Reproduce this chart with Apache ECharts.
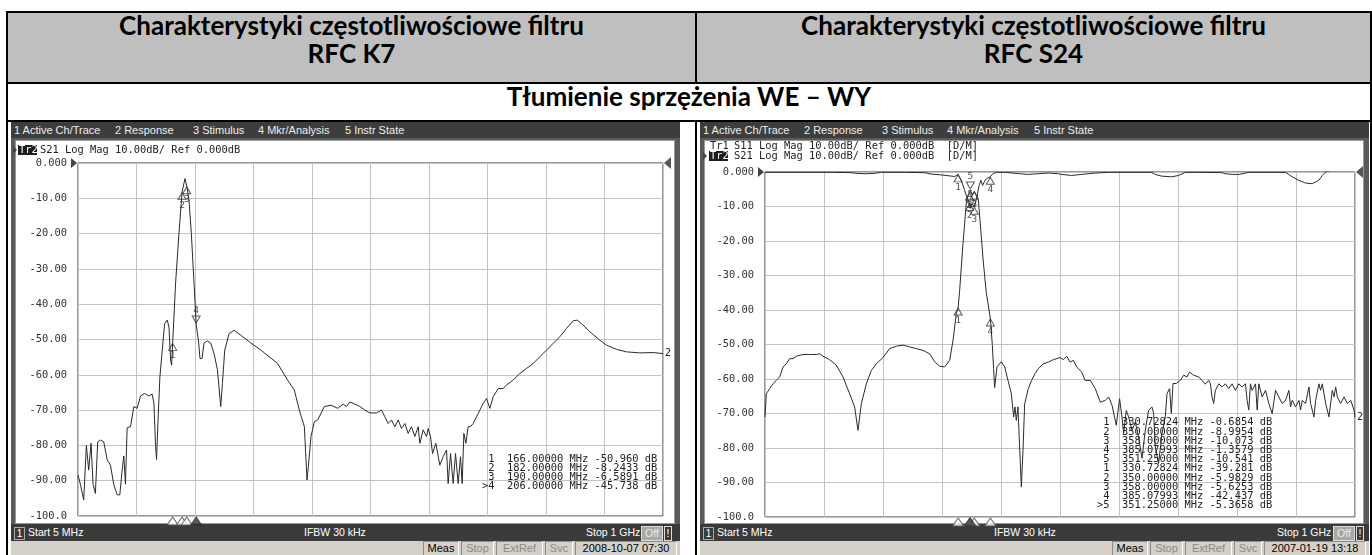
<!DOCTYPE html>
<html>
<head>
<meta charset="utf-8">
<title>Charakterystyki częstotliwościowe filtru RFC K7 / RFC S24</title>
<script src="https://cdn.jsdelivr.net/npm/echarts@6.0.0/dist/echarts.min.js"></script>
<style>
  html, body { margin: 0; padding: 0; background: #fff; }
  #page { position: relative; width: 1372px; height: 555px; overflow: hidden; }
  .rule { position: absolute; background: #000; }
  .headbg { position: absolute; top: 13px; height: 69px; background: #bfbfbf; }
  .ht { position: absolute; text-align: center; white-space: nowrap; color: #000;
        font-family: Lato, "Open Sans", sans-serif; font-weight: 700; line-height: 1.2; }
  .scr { position: absolute; top: 122px; width: 669px; height: 433px; background: #5a5a5a;
         overflow: hidden; font-family: "Liberation Sans", Arial, sans-serif; }
  .menu { position: absolute; left: 0; right: 0; top: 0; height: 16px; background: #3d3d3d;
          color: #eee; font-size: 11px; line-height: 16px; }
  .menu span { position: absolute; top: 0; white-space: nowrap; }
  .panel { position: absolute; left: 4px; right: 5px; top: 18px; height: 382px; background: #fff;
           border: 1px solid #999; }
  .sbar { position: absolute; left: 0; right: 0; top: 402px; height: 17px; background: #3a3a3a;
          color: #fff; font-size: 10.5px; line-height: 17px; }
  .sbar span { position: absolute; top: 0; white-space: nowrap; }
  .sbar .box1 { top: 3px; left: 3px; width: 9px; height: 11px; line-height: 11px; text-align: center;
                border: 1px solid #aaa; font-size: 10px; }
  .sbar .off { top: 2px; width: 20px; height: 13px; line-height: 13px; text-align: center;
               background: #a8a8a8; color: #eee; border: 1px solid #ddd; }
  .sbar .bang { top: 2px; width: 6px; height: 13px; line-height: 13px; text-align: center;
                border: 1px solid #ddd; }
  .status { position: absolute; left: 0; right: 0; top: 419px; height: 14px; background: #d4d0c8;
            font-size: 11px; display: flex; justify-content: flex-end; gap: 2px; padding-right: 3px; }
  .status span { display: block; height: 13px; line-height: 13px; text-align: center;
                 border-top: 1px solid #8c8c8c; border-left: 1px solid #8c8c8c;
                 border-bottom: 1px solid #fff; border-right: 1px solid #fff; }
  .status .dim { color: #8a8a8a; }
  #chart { position: absolute; left: 0; top: 0; width: 1372px; height: 555px; }
</style>
</head>
<body>
<div id="page">
  <div class="headbg" style="left:8px;width:687px"></div>
  <div class="headbg" style="left:697px;width:673px"></div>
  <div class="rule" style="left:6px;top:11px;width:1366px;height:2px"></div>
  <div class="rule" style="left:6px;top:11px;width:2px;height:544px"></div>
  <div class="rule" style="left:1370px;top:11px;width:2px;height:544px"></div>
  <div class="rule" style="left:8px;top:82px;width:1362px;height:2px"></div>
  <div class="rule" style="left:8px;top:120px;width:1362px;height:2px"></div>
  <div class="rule" style="left:695px;top:11px;width:2px;height:72px"></div>
  <div class="rule" style="left:695px;top:120px;width:2px;height:435px"></div>

  <div class="ht" data-cx="351.5" data-base="36">Charakterystyki częstotliwościowe filtru</div>
  <div class="ht" data-cx="351.5" data-base="64">RFC K7</div>
  <div class="ht" data-cx="1033.5" data-base="36">Charakterystyki częstotliwościowe filtru</div>
  <div class="ht" data-cx="1033.5" data-base="64">RFC S24</div>
  <div class="ht" data-cx="689" data-base="107">Tłumienie sprzężenia WE – WY</div>

  <div class="scr" style="left:11px">
    <div class="menu">
      <span style="left:3px">1 Active Ch/Trace</span><span style="left:104px">2 Response</span>
      <span style="left:182px">3 Stimulus</span><span style="left:247px">4 Mkr/Analysis</span>
      <span style="left:334px">5 Instr State</span>
    </div>
    <div class="panel"></div>
    <div class="sbar">
      <span class="box1">1</span><span style="left:17px">Start 5 MHz</span>
      <span style="left:293px">IFBW 30 kHz</span><span style="left:575px">Stop 1 GHz</span>
      <span class="off" style="left:630px">Off</span><span class="bang" style="left:653px">!</span>
    </div>
    <div class="status">
      <span style="width:34px">Meas</span><span class="dim" style="width:31px">Stop</span>
      <span class="dim" style="width:45px">ExtRef</span><span class="dim" style="width:26px">Svc</span>
      <span style="width:100px">2008-10-07 07:30</span>
    </div>
  </div>

  <div class="scr" style="left:700px">
    <div class="menu">
      <span style="left:3px">1 Active Ch/Trace</span><span style="left:104px">2 Response</span>
      <span style="left:182px">3 Stimulus</span><span style="left:247px">4 Mkr/Analysis</span>
      <span style="left:334px">5 Instr State</span>
    </div>
    <div class="panel"></div>
    <div class="sbar">
      <span class="box1">1</span><span style="left:17px">Start 5 MHz</span>
      <span style="left:294px">IFBW 30 kHz</span><span style="left:577px">Stop 1 GHz</span>
      <span class="off" style="left:633px">Off</span><span class="bang" style="left:656px">!</span>
    </div>
    <div class="status">
      <span style="width:34px">Meas</span><span class="dim" style="width:31px">Stop</span>
      <span class="dim" style="width:45px">ExtRef</span><span class="dim" style="width:26px">Svc</span>
      <span style="width:100px">2007-01-19 13:18</span>
    </div>
  </div>

  <div id="chart"></div>
</div>

<script>
// stimulus: 5 MHz .. 1 GHz, 10 divisions; response 10 dB/div, ref 0 dB
var freqStart = 5, freqStop = 1000;
var dbTicks = ['0.000', '-10.00', '-20.00', '-30.00', '-40.00', '-50.00',
               '-60.00', '-70.00', '-80.00', '-90.00', '-100.0'];

// RFC K7, S21 (MHz / dB)
var k7Freq = [
  5, 9, 14.7, 19.2, 23.2, 27.2, 30.6, 34.6, 38.5, 43.1,
  48.8, 54.5, 60.2, 65.8, 71.5, 76.1, 80.1, 82.9, 85.7, 88.6,
  94.3, 100, 105.6, 111.3, 118.2, 125.5, 131.2, 134.1, 136.9, 138.6,
  140.9, 144.3, 148.3, 152.3, 156.8, 159.7, 162.5, 164.2, 166, 171,
  176.7, 182, 187, 190, 193.8, 197.8, 202.3, 206, 210.3, 212.5,
  216, 219.4, 225, 230.7, 236.4, 242.1, 247.8, 250.6, 254.6, 262,
  270.5, 281.9, 299, 316, 344.5, 361.5, 372.9, 381.4, 390, 394.5,
  396.8, 401.3, 407, 412.7, 424, 435.4, 446.8, 456, 461.7, 467.3,
  475.9, 484.4, 492.9, 501.4, 512.7, 521.2, 526.9, 532.5, 538.2, 543.9,
  549.6, 555.2, 560.9, 566.6, 572.2, 577.9, 583.6, 586.4, 592.1, 597.8,
  600.6, 604.6, 608, 613.6, 620.4, 626.1, 631.8, 634.6, 638.6, 643.1,
  647.1, 651.6, 655.6, 658.4, 661.3, 664.7, 668.6, 672.6, 677.1, 682.8,
  688.5, 694.1, 699.8, 705.5, 711.2, 719.7, 728.2, 733.8, 745.2, 756.5,
  767.9, 779.2, 790.5, 801.9, 813.2, 824.6, 835.9, 847.2, 854, 861.4,
  875.6, 892.6, 903.9, 920.9, 938, 960.6, 983.3, 1000
];
var k7S21 = [
  -88.4, -91, -95.5, -80, -87, -79.4, -91, -93.6, -79, -78.5,
  -79, -84, -85.6, -91, -94, -94, -87, -83, -91, -75,
  -74.7, -69, -69.5, -66, -65.3, -66, -65.5, -68, -80, -84,
  -73.8, -60.6, -53, -45.5, -44.5, -46.5, -55.8, -57.3, -50.96, -34,
  -20, -8.24, -4.4, -6.59, -10.5, -20, -34, -45.74, -51, -55.4,
  -55.4, -51, -50.4, -51, -54, -58.5, -69, -62.5, -53, -48.3,
  -47.4, -48.8, -51, -53, -56.8, -61.5, -64.3, -70, -74.7, -89.8,
  -86, -77.5, -73.3, -72.8, -69, -68.6, -69.5, -68.3, -69, -67.7,
  -68.3, -69, -70, -70.8, -70.8, -70, -71.9, -73.8, -72.8, -74.7,
  -72.8, -75.2, -73.8, -76.6, -74.7, -77.5, -74.7, -79.4, -75.6, -77.5,
  -75.2, -77.5, -82.3, -79.4, -85.6, -83.2, -81.3, -90.8, -82.3, -90.8,
  -82.3, -90.8, -83.2, -90.8, -76.6, -79.4, -74.7, -74.7, -73.8, -71.9,
  -70, -68.1, -66.7, -69.5, -66.2, -63.9, -63.9, -62.9, -61.5, -59.6,
  -58.2, -56.8, -54.9, -53, -51.1, -49.2, -46.9, -44.7, -44.5, -45.5,
  -47.8, -50.2, -51.6, -52.8, -53.5, -53.8, -53.7, -54
];

// RFC S24, S21 (MHz / dB)
var s24Freq = [
  5, 7.2, 12.9, 18.5, 24.1, 29.7, 35.4, 41, 46.6, 52.2,
  57.8, 69.1, 80.3, 91.6, 97.2, 102.8, 114, 125.3, 136.5, 147.8,
  156.2, 161.8, 167.4, 175.9, 184.3, 192.7, 204, 215.2, 226.5, 237.7,
  249, 260.2, 271.4, 282.7, 291.1, 299.5, 308, 316.4, 322.1, 327.7,
  330.73, 333.3, 338.9, 344.5, 346.2, 350, 351.25, 354.6, 358, 361.4,
  364.7, 368.1, 372.6, 378.2, 385.08, 388.3, 390.5, 392.3, 394, 396.2,
  403.5, 409.2, 414.8, 420.4, 424.3, 426.6, 428.8, 431.6, 434.4, 437.3,
  440.1, 442.9, 445.7, 449, 454.6, 460.2, 465.9, 474.3, 482.8, 491.2,
  502.5, 508.1, 513.8, 519.4, 525, 530.7, 539.1, 544.8, 553.6, 562,
  570.5, 578.9, 584.5, 590.2, 597.4, 603, 607, 609.8, 614.3, 618.2,
  624, 629.5, 635, 640.8, 646.3, 651.9, 657.6, 660.4, 663.2, 668.8,
  674.5, 680, 683, 687.3, 690.2, 693.1, 698.6, 705.4, 711, 716.7,
  721, 727.8, 736.4, 742, 747.6, 753.3, 756.1, 758.9, 761.7, 764.5,
  770.2, 775.8, 781.4, 787.1, 792.7, 798.3, 804, 809.6, 815.2, 818.1,
  820.9, 823.7, 826.5, 832.2, 835, 837.8, 843.4, 849.1, 854.7, 860.3,
  866, 871.6, 877.2, 882.9, 888.5, 891.3, 894.1, 899.8, 905.4, 908.2,
  911, 916.7, 922.3, 925.1, 930.8, 933.6, 939.2, 942, 944.8, 950.5,
  956.1, 961.7, 964.6, 967.4, 970.2, 975.8, 981.5, 987.1, 992.8, 998.4,
  1000
];
var s24S21 = [
  -71, -64.3, -62.8, -61.4, -60.4, -59.4, -56.5, -55.6, -54.1, -54.1,
  -53.4, -52.9, -52.9, -52.9, -52.7, -53.4, -54.4, -56, -59.4, -64.3,
  -68.1, -74.9, -67.2, -61.4, -57.5, -55.6, -53.8, -51.2, -50.5, -50.2,
  -50.7, -51.2, -51.7, -52.7, -55, -56.3, -56.5, -54.6, -48.8, -41,
  -39.28, -34.3, -20.8, -9, -7.2, -5.98, -5.37, -6.5, -5.63, -6.8,
  -8, -15, -25, -35, -42.44, -50, -57, -62.5, -60, -56.5,
  -55, -56.5, -60.4, -64.3, -71, -68.1, -72, -68.1, -79.7, -91.3,
  -80.7, -67.2, -65.2, -62.8, -60.4, -58.5, -57, -55.6, -55.1, -54.4,
  -53.8, -54.4, -53.4, -55.1, -54.6, -56.5, -58, -60.4, -60.4, -62.8,
  -66.7, -66.2, -65.2, -67.6, -73.4, -65.7, -71, -75.8, -69.1, -71,
  -74.9, -72.5, -76.8, -83, -74.9, -69.1, -68.1, -70, -79.7, -84.5,
  -75.8, -71, -64.2, -62.8, -70, -61.3, -61.3, -60.4, -58.9, -59.4,
  -58, -58.9, -59.4, -60.4, -61.5, -60.4, -61.4, -65.2, -67.1, -63.3,
  -61.4, -62.3, -61.4, -62.8, -61.4, -63.3, -61.4, -62.3, -61.4, -66.2,
  -69, -61.4, -63.3, -61.4, -69, -61.4, -65.2, -63.3, -67.1, -70,
  -63.3, -65.2, -67.1, -66.2, -63.3, -68.1, -66.2, -68.1, -66.2, -69,
  -66.2, -67.1, -62.3, -67.1, -71, -66.2, -61.4, -63.3, -61.4, -67.1,
  -71, -63.3, -65.2, -62.3, -65.2, -67.1, -65.2, -67.1, -66.2, -69,
  -71
];

// RFC S24, S11 (MHz / dB)
var s24S11Freq = [
  5, 60, 120, 150, 160, 175, 190, 200, 240, 275,
  285, 300, 315, 325, 330.73, 336, 341, 346, 350, 351.25,
  354.6, 358, 362, 366, 369, 372, 376, 380, 385.08, 390,
  396, 410, 434, 449, 466, 483, 500, 505, 522, 539,
  562, 584, 620, 657, 663, 674, 691, 702.5, 714, 742,
  776, 781, 793, 804, 821, 883, 894, 905, 916.7, 928,
  939, 945, 950.5, 960, 980, 1000
];
var s24S11 = [
  -0.1, -0.1, -0.1, -0.2, -0.4, -0.5, -0.4, -0.1, -0.1, -0.2,
  -0.6, -0.8, -1.1, -1.3, -0.69, -2.5, -5, -7.5, -9, -10.54,
  -9.2, -10.07, -7.5, -4, -2.4, -3.9, -2.4, -1.8, -1.36, -0.4,
  -0.1, -0.1, -0.5, -0.7, -0.5, -0.3, -0.5, -0.7, -1.0, -0.7,
  -0.3, -0.1, -0.1, -0.1, -0.7, -1.2, -1.4, -1.0, -0.1, -0.1,
  -0.2, -0.5, -0.7, -0.7, -0.1, -0.1, -1.4, -2.4, -3.2, -3.4,
  -2.4, -1.0, 0, 0.5, 0.8, 0.6
];

// markers
var k7MkFreq = [166, 182, 190, 206];
var k7MkS21 = [-50.960, -8.2433, -6.5891, -45.738];
var k7MkActive = 4;
var s24MkFreq = [330.72824, 350, 358, 385.07993, 351.25];
var s24MkS11 = [-0.6854, -8.9954, -10.073, -1.3579, -10.541];
var s24MkS21 = [-39.281, -5.9829, -5.6253, -42.437, -5.3658];
var s24MkActive = 5;

// document headings: size the bold face so the long title is ~465px wide
(function () {
  var ctx = document.createElement('canvas').getContext('2d');
  ctx.font = '700 100px Lato';
  var w = ctx.measureText('Charakterystyki częstotliwościowe filtru').width;
  var size = Math.max(20, Math.min(30, 100 * 465 / w));
  document.querySelectorAll('.ht').forEach(function (el) {
    var cx = +el.dataset.cx, base = +el.dataset.base;
    el.style.fontSize = size.toFixed(2) + 'px';
    el.style.top = (base - 0.987 * size).toFixed(1) + 'px';
    el.style.left = (cx - 400) + 'px';
    el.style.width = '800px';
  });
})();

var mono = '"DejaVu Sans Mono", monospace';
var ink = '#2a2a2a';
var gridColor = '#c4c4c4';
var G = [
  { left: 78, top: 163, width: 585, height: 353 },
  { left: 765, top: 172, width: 590, height: 345 }
];

function pts(xs, ys) {
  return xs.map(function (x, i) { return [x, ys[i]]; });
}
function fmtVal(v) {
  return Math.abs(v) < 10 ? v.toFixed(4) : v.toFixed(3);
}
function mkRows(freqs, vals, activeId, showActive) {
  return freqs.map(function (f, i) {
    var id = i + 1;
    var pre = (showActive && id === activeId) ? '>' : ' ';
    return pre + id + '  ' + f.toFixed(5) + ' MHz ' + fmtVal(vals[i]) + ' dB';
  });
}
function markerSeries(gi, freqs, vals, activeId) {
  return {
    type: 'scatter', xAxisIndex: gi * 2, yAxisIndex: gi, z: 5,
    symbol: 'triangle', symbolSize: [8, 7], symbolOffset: [0, 4],
    itemStyle: { color: 'rgba(255,255,255,0)', borderColor: '#333', borderWidth: 1 },
    label: { show: true, position: 'bottom', distance: 0, color: '#222',
             fontFamily: mono, fontSize: 9.5,
             formatter: function (p) { return String(p.dataIndex + 1); } },
    data: freqs.map(function (f, i) {
      var item = { value: [f, vals[i]] };
      if (i + 1 === activeId) {
        item.symbolRotate = 180;
        item.symbolOffset = [0, -5];
        item.label = { position: 'top' };
      }
      return item;
    })
  };
}
function stimSeries(gi, freqs, activeId) {
  return {
    type: 'scatter', xAxisIndex: gi * 2, yAxisIndex: gi, z: 5, clip: false,
    symbol: 'triangle', symbolSize: [11, 8], symbolOffset: [0, 5],
    data: freqs.map(function (f, i) {
      return {
        value: [f, -100],
        itemStyle: (i + 1 === activeId)
          ? { color: '#333', borderColor: '#333', borderWidth: 1 }
          : { color: '#fff', borderColor: '#555', borderWidth: 1 }
      };
    })
  };
}
function traceSeries(gi, xs, ys, endText) {
  return {
    type: 'line', xAxisIndex: gi * 2, yAxisIndex: gi, z: 3,
    symbol: 'none', data: pts(xs, ys),
    lineStyle: { color: ink, width: 1 },
    endLabel: endText ? { show: true, formatter: endText, distance: 2,
                          color: '#222', fontFamily: mono, fontSize: 10 } : { show: false }
  };
}
function freqAxis(gi) {
  return { type: 'value', gridIndex: gi, min: freqStart, max: freqStop, show: false };
}
function divAxis(gi) {
  return { type: 'value', gridIndex: gi, min: 0, max: 10, interval: 1,
           axisLine: { show: false }, axisTick: { show: false }, axisLabel: { show: false },
           splitLine: { show: true, lineStyle: { color: gridColor, width: 1 } } };
}
function dbAxis(gi) {
  return { type: 'value', gridIndex: gi, min: -100, max: 0, interval: 10,
           axisLine: { show: false }, axisTick: { show: false },
           splitLine: { show: true, lineStyle: { color: gridColor, width: 1 } },
           axisLabel: { margin: 11, color: '#333', fontFamily: mono, fontSize: 10.4,
                        formatter: function (v) { return dbTicks[Math.round(-v / 10)]; } } };
}

// texts drawn on the analyser screens
function monoText(x, y, s, extra) {
  var st = { text: s, x: x, y: y, fill: '#222', font: '10.4px ' + mono,
             textVerticalAlign: 'middle', verticalAlign: 'middle' };
  for (var k in extra || {}) st[k] = extra[k];
  return { type: 'text', z: 10, style: st };
}
function trBox(x, y, label) {
  return [
    { type: 'rect', z: 10, shape: { x: x, y: y - 5, width: 19, height: 10 }, style: { fill: '#1e1e1e' } },
    monoText(x + 1, y, label, { fill: '#fff' })
  ];
}
function tri(points, fill) {
  return { type: 'polygon', z: 10, shape: { points: points }, style: { fill: fill || '#444' } };
}

var graphics = [];
// left screen header
graphics.push(tri([[13, 146], [17, 150], [13, 154]]));
graphics = graphics.concat(trBox(18, 150, 'Tr2'));
graphics.push(monoText(40, 150, 'S21 Log Mag 10.00dB/ Ref 0.000dB'));
// right screen header
graphics.push(monoText(710, 146, 'Tr1'));
graphics.push(monoText(734, 146, 'S11 Log Mag 10.00dB/ Ref 0.000dB  [D/M]'));
graphics.push(tri([[703, 152], [707, 156], [703, 160]]));
graphics = graphics.concat(trBox(709, 156, 'Tr2'));
graphics.push(monoText(734, 156, 'S21 Log Mag 10.00dB/ Ref 0.000dB  [D/M]'));
// reference level arrows
G.forEach(function (g) {
  var y = g.top, xl = g.left, xr = g.left + g.width;
  graphics.push(tri([[xl - 7, y - 5], [xl - 1, y], [xl - 7, y + 5]]));
  graphics.push(tri([[xr + 8, y - 6], [xr + 1, y], [xr + 8, y + 6]], '#555'));
});
// marker tables
graphics.push({
  type: 'text', z: 10,
  style: { x: 482, y: 455, text: mkRows(k7MkFreq, k7MkS21, k7MkActive, true).join('\n'),
           font: '10.4px ' + mono, lineHeight: 9, fill: '#222',
           textVerticalAlign: 'top', verticalAlign: 'top' }
});
graphics.push({
  type: 'text', z: 10,
  style: { x: 1097, y: 418, text: mkRows(s24MkFreq, s24MkS11, s24MkActive, false)
             .concat(mkRows(s24MkFreq, s24MkS21, s24MkActive, true)).join('\n'),
           font: '10.4px ' + mono, lineHeight: 9.2, fill: '#222',
           textVerticalAlign: 'top', verticalAlign: 'top' }
});

var chart = echarts.init(document.getElementById('chart'), null, { renderer: 'canvas' });
chart.setOption({
  animation: false,
  grid: G.map(function (g) {
    return { left: g.left, top: g.top, width: g.width, height: g.height,
             show: true, borderColor: '#333', borderWidth: 1, backgroundColor: 'rgba(0,0,0,0)' };
  }),
  xAxis: [freqAxis(0), divAxis(0), freqAxis(1), divAxis(1)],
  yAxis: [dbAxis(0), dbAxis(1)],
  series: [
    traceSeries(0, k7Freq, k7S21, '2'),
    markerSeries(0, k7MkFreq, k7MkS21, k7MkActive),
    stimSeries(0, k7MkFreq, k7MkActive),
    traceSeries(1, s24S11Freq, s24S11, null),
    traceSeries(1, s24Freq, s24S21, '2'),
    markerSeries(1, s24MkFreq, s24MkS11, s24MkActive),
    markerSeries(1, s24MkFreq, s24MkS21, s24MkActive),
    stimSeries(1, s24MkFreq, s24MkActive)
  ],
  graphic: graphics
});
</script>
</body>
</html>
